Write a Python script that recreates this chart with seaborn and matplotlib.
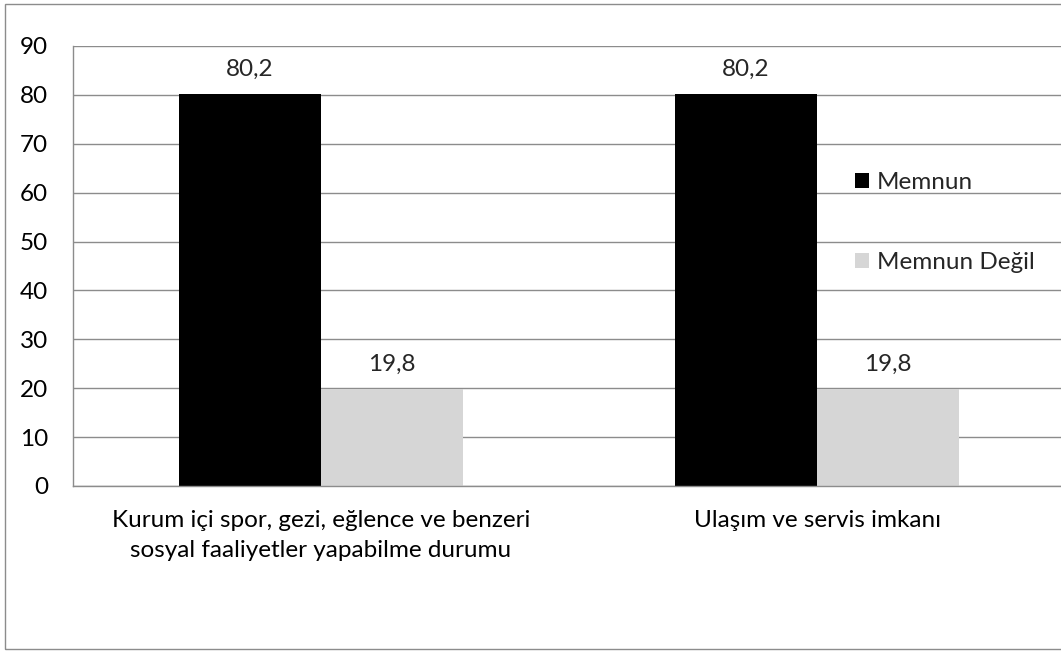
import matplotlib
matplotlib.use("Agg")
import matplotlib.pyplot as plt
import seaborn as sns
import pandas as pd
from matplotlib.patches import Rectangle

categories = ["Kurum içi spor, gezi, eğlence ve benzeri\nsosyal faaliyetler yapabilme durumu",
              "Ulaşım ve servis imkanı"]
series = ["Memnun", "Memnun Değil"]
memnun = [80.2, 80.2]
memnun_degil = [19.8, 19.8]
colors = ["#000000", "#d6d6d6"]
yticks = [0, 10, 20, 30, 40, 50, 60, 70, 80, 90]

rows = []
for c, a, b in zip(categories, memnun, memnun_degil):
    rows.append({"cat": c, "grp": series[0], "val": a})
    rows.append({"cat": c, "grp": series[1], "val": b})
df = pd.DataFrame(rows)

sns.set_style("white")
plt.rcParams["font.family"] = ["Lato", "DejaVu Sans"]
FS = 17.5

W, H = 1061, 651
fig = plt.figure(figsize=(W / 100, H / 100), dpi=100)
ax = fig.add_axes([73 / W, (H - 486) / H, (1065 - 73) / W, (486 - 46) / H])

sns.barplot(data=df, x="cat", y="val", hue="grp", palette=colors, saturation=1,
            width=0.573, gap=0, ax=ax, legend=False, linewidth=0, edgecolor="none")

ax.set_xlim(-0.5, 1.5)
ax.set_ylim(0, 90)
ax.set_yticks(yticks)
ax.set_yticklabels([str(t) for t in yticks])
ax.yaxis.grid(True, color="#8c8c8c", linewidth=1)
ax.set_axisbelow(True)
ax.set_xlabel("")
ax.set_ylabel("")
for s in ["top", "right"]:
    ax.spines[s].set_visible(False)
for s in ["left", "bottom"]:
    ax.spines[s].set_color("#8c8c8c")
    ax.spines[s].set_linewidth(1)
ax.tick_params(axis="both", length=0, labelsize=FS, colors="#000000")
ax.tick_params(axis="y", pad=18)
ax.tick_params(axis="x", pad=17)
for lab in ax.get_xticklabels():
    lab.set_linespacing(1.55)

for cont in ax.containers:
    ax.bar_label(cont, labels=[f"{v:.1f}".replace(".", ",") for v in cont.datavalues],
                 padding=10, fontsize=FS)

handles = [Rectangle((0, 0), 1, 1, facecolor=c, edgecolor="none") for c in colors]
fig.legend(handles, series, loc="center left", bbox_to_anchor=(855 / W, 1 - 222.5 / H),
           frameon=False, fontsize=FS, handlelength=0.58, handleheight=0.58,
           handletextpad=0.33, labelspacing=2.4, borderpad=0, borderaxespad=0)

fig.patches.append(Rectangle((5 / W, (H - 649) / H), (1075 - 5) / W, (649 - 4) / H,
                             transform=fig.transFigure, fill=False,
                             edgecolor="#8c8c8c", linewidth=1))

fig.savefig("out.png", dpi=100)
